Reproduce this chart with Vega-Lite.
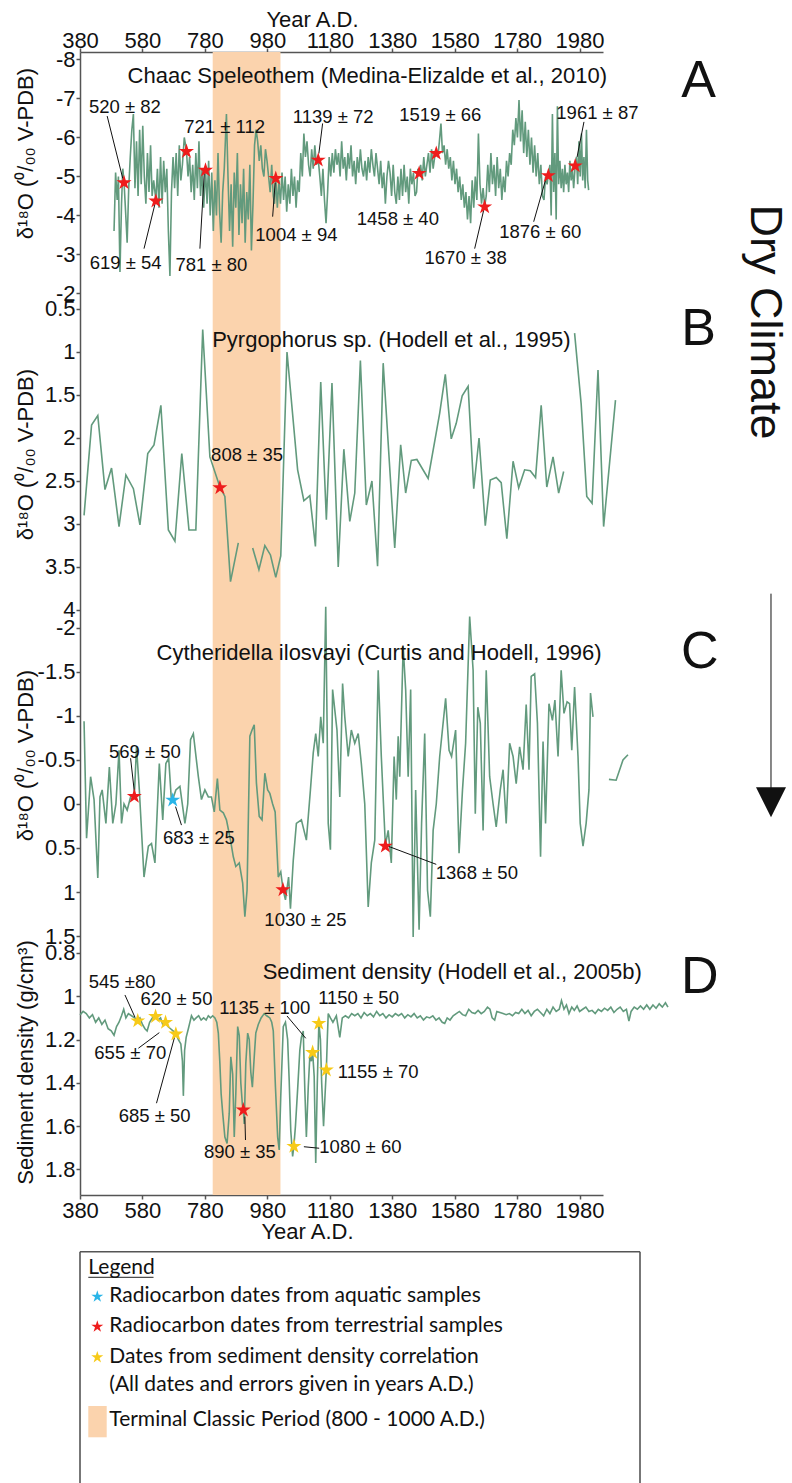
{
"$schema": "https://vega.github.io/schema/vega-lite/v6.json",
"background": "white",
"width": 523,
"height": 1143,
"autosize": {"type": "none"},
"padding": {"left": 80, "top": 52, "right": 189, "bottom": 288},
"config": {
  "view": {"stroke": null},
  "axis": {"grid": false, "labelFont": "Liberation Sans", "titleFont": "Liberation Sans", "titleFontWeight": "normal", "labelFontSize": 22, "titleFontSize": 22, "domainColor": "#555", "tickColor": "#555", "labelColor": "#111", "titleColor": "#111", "tickSize": 4, "labelPadding": 1, "domainWidth": 1.5, "tickWidth": 1.5, "labelOverlap": false, "labelFlush": false}
},
"resolve": {"scale": {"x": "independent", "y": "independent"}},
"datasets": {
"a": [{"x":489,"y":-3.6},{"x":494,"y":-5.1},{"x":499,"y":-4.4},{"x":503,"y":-5.0},{"x":508,"y":-2.55},{"x":513,"y":-4.3},{"x":517,"y":-5.2},{"x":521,"y":-4.86},{"x":526,"y":-4.1},{"x":531,"y":-3.3},{"x":536,"y":-4.7},{"x":541,"y":-5.5},{"x":546,"y":-6.2},{"x":551,"y":-6.6},{"x":556,"y":-4.7},{"x":561,"y":-5.9},{"x":566,"y":-4.5},{"x":571,"y":-6.2},{"x":576,"y":-4.8},{"x":581,"y":-6.3},{"x":586,"y":-5.0},{"x":591,"y":-4.3},{"x":596,"y":-5.6},{"x":601,"y":-4.6},{"x":606,"y":-5.8},{"x":611,"y":-4.5},{"x":616,"y":-4.9},{"x":623,"y":-4.39},{"x":628,"y":-5.2},{"x":633,"y":-4.2},{"x":638,"y":-5.5},{"x":643,"y":-4.3},{"x":648,"y":-5.4},{"x":653,"y":-4.6},{"x":658,"y":-5.2},{"x":663,"y":-3.6},{"x":668,"y":-2.45},{"x":673,"y":-4.6},{"x":678,"y":-5.5},{"x":683,"y":-4.7},{"x":688,"y":-5.6},{"x":693,"y":-4.5},{"x":698,"y":-5.8},{"x":703,"y":-4.9},{"x":708,"y":-5.3},{"x":714,"y":-6.0},{"x":721,"y":-5.66},{"x":726,"y":-5.0},{"x":731,"y":-5.5},{"x":736,"y":-4.6},{"x":741,"y":-5.3},{"x":746,"y":-4.4},{"x":751,"y":-5.6},{"x":756,"y":-4.7},{"x":761,"y":-5.9},{"x":766,"y":-4.5},{"x":771,"y":-5.2},{"x":776,"y":-4.2},{"x":782,"y":-5.18},{"x":787,"y":-4.3},{"x":792,"y":-5.4},{"x":797,"y":-4.0},{"x":802,"y":-5.1},{"x":807,"y":-3.6},{"x":812,"y":-4.9},{"x":817,"y":-4.0},{"x":822,"y":-5.6},{"x":827,"y":-4.1},{"x":832,"y":-3.3},{"x":837,"y":-4.6},{"x":842,"y":-5.2},{"x":849,"y":-6.6},{"x":854,"y":-5.0},{"x":859,"y":-3.6},{"x":864,"y":-4.8},{"x":869,"y":-3.2},{"x":874,"y":-5.1},{"x":879,"y":-4.2},{"x":884,"y":-5.6},{"x":889,"y":-3.5},{"x":894,"y":-4.8},{"x":899,"y":-3.8},{"x":904,"y":-5.2},{"x":909,"y":-3.3},{"x":914,"y":-4.6},{"x":919,"y":-3.9},{"x":924,"y":-5.3},{"x":929,"y":-3.1},{"x":934,"y":-4.3},{"x":939,"y":-5.8},{"x":944,"y":-6.2},{"x":949,"y":-5.9},{"x":954,"y":-5.4},{"x":959,"y":-5.8},{"x":964,"y":-5.2},{"x":969,"y":-5.0},{"x":974,"y":-5.7},{"x":979,"y":-5.4},{"x":984,"y":-5.0},{"x":989,"y":-4.6},{"x":994,"y":-5.3},{"x":999,"y":-4.5},{"x":1003,"y":-4.3},{"x":1007,"y":-4.97},{"x":1012,"y":-4.2},{"x":1017,"y":-4.9},{"x":1022,"y":-4.3},{"x":1027,"y":-5.1},{"x":1032,"y":-4.4},{"x":1037,"y":-5.0},{"x":1042,"y":-4.1},{"x":1047,"y":-4.8},{"x":1052,"y":-4.3},{"x":1057,"y":-5.2},{"x":1062,"y":-4.5},{"x":1067,"y":-5.0},{"x":1072,"y":-4.2},{"x":1077,"y":-4.9},{"x":1082,"y":-4.6},{"x":1087,"y":-5.6},{"x":1092,"y":-5.0},{"x":1097,"y":-6.1},{"x":1102,"y":-5.5},{"x":1107,"y":-5.9},{"x":1112,"y":-5.3},{"x":1117,"y":-5.0},{"x":1122,"y":-5.7},{"x":1127,"y":-5.2},{"x":1132,"y":-5.8},{"x":1137,"y":-5.3},{"x":1143,"y":-5.44},{"x":1148,"y":-5.0},{"x":1153,"y":-4.5},{"x":1158,"y":-5.2},{"x":1163,"y":-4.4},{"x":1168,"y":-3.8},{"x":1173,"y":-4.6},{"x":1178,"y":-5.5},{"x":1183,"y":-5.0},{"x":1188,"y":-5.6},{"x":1193,"y":-5.1},{"x":1198,"y":-5.7},{"x":1203,"y":-5.3},{"x":1208,"y":-5.6},{"x":1213,"y":-5.0},{"x":1218,"y":-5.9},{"x":1223,"y":-5.2},{"x":1228,"y":-5.5},{"x":1233,"y":-4.9},{"x":1238,"y":-5.6},{"x":1243,"y":-5.2},{"x":1248,"y":-5.8},{"x":1253,"y":-5.0},{"x":1258,"y":-5.4},{"x":1263,"y":-4.8},{"x":1268,"y":-5.5},{"x":1273,"y":-5.1},{"x":1278,"y":-5.7},{"x":1283,"y":-5.2},{"x":1288,"y":-5.0},{"x":1293,"y":-5.4},{"x":1298,"y":-4.9},{"x":1303,"y":-5.5},{"x":1308,"y":-5.1},{"x":1313,"y":-5.7},{"x":1318,"y":-5.3},{"x":1323,"y":-5.0},{"x":1328,"y":-5.6},{"x":1333,"y":-5.2},{"x":1338,"y":-4.8},{"x":1343,"y":-5.4},{"x":1348,"y":-4.7},{"x":1353,"y":-5.1},{"x":1358,"y":-4.3},{"x":1363,"y":-5.0},{"x":1368,"y":-5.4},{"x":1373,"y":-5.1},{"x":1378,"y":-4.5},{"x":1383,"y":-5.3},{"x":1388,"y":-4.6},{"x":1393,"y":-4.3},{"x":1398,"y":-5.0},{"x":1403,"y":-4.4},{"x":1408,"y":-5.2},{"x":1413,"y":-4.5},{"x":1418,"y":-5.3},{"x":1423,"y":-4.6},{"x":1428,"y":-5.0},{"x":1433,"y":-4.3},{"x":1438,"y":-5.2},{"x":1443,"y":-4.8},{"x":1448,"y":-5.1},{"x":1453,"y":-4.5},{"x":1458,"y":-4.6},{"x":1462,"y":-5.2},{"x":1466,"y":-5.1},{"x":1471,"y":-5.3},{"x":1476,"y":-4.9},{"x":1481,"y":-5.5},{"x":1486,"y":-5.0},{"x":1491,"y":-5.3},{"x":1496,"y":-5.6},{"x":1501,"y":-5.1},{"x":1506,"y":-5.7},{"x":1511,"y":-5.2},{"x":1516,"y":-5.5},{"x":1521,"y":-5.61},{"x":1526,"y":-5.5},{"x":1531,"y":-5.9},{"x":1536,"y":-6.36},{"x":1541,"y":-5.6},{"x":1546,"y":-5.8},{"x":1551,"y":-5.3},{"x":1556,"y":-5.7},{"x":1561,"y":-5.2},{"x":1566,"y":-5.5},{"x":1571,"y":-4.9},{"x":1576,"y":-5.4},{"x":1581,"y":-4.8},{"x":1586,"y":-5.2},{"x":1591,"y":-4.6},{"x":1596,"y":-5.0},{"x":1601,"y":-4.4},{"x":1606,"y":-4.8},{"x":1611,"y":-4.2},{"x":1616,"y":-4.6},{"x":1621,"y":-3.9},{"x":1626,"y":-4.5},{"x":1631,"y":-3.8},{"x":1636,"y":-4.9},{"x":1641,"y":-4.2},{"x":1646,"y":-5.0},{"x":1651,"y":-4.4},{"x":1656,"y":-6.1},{"x":1661,"y":-4.8},{"x":1666,"y":-4.3},{"x":1671,"y":-4.7},{"x":1676,"y":-4.24},{"x":1681,"y":-4.5},{"x":1686,"y":-5.3},{"x":1691,"y":-4.6},{"x":1696,"y":-5.6},{"x":1701,"y":-4.8},{"x":1706,"y":-5.3},{"x":1711,"y":-4.5},{"x":1716,"y":-5.5},{"x":1721,"y":-4.7},{"x":1726,"y":-5.2},{"x":1731,"y":-4.4},{"x":1736,"y":-5.0},{"x":1741,"y":-4.6},{"x":1746,"y":-5.4},{"x":1751,"y":-5.0},{"x":1756,"y":-5.6},{"x":1761,"y":-5.3},{"x":1766,"y":-6.2},{"x":1771,"y":-5.8},{"x":1776,"y":-6.5},{"x":1781,"y":-6.0},{"x":1786,"y":-6.96},{"x":1791,"y":-5.9},{"x":1796,"y":-6.7},{"x":1801,"y":-5.6},{"x":1806,"y":-6.4},{"x":1811,"y":-5.5},{"x":1816,"y":-6.2},{"x":1821,"y":-5.3},{"x":1826,"y":-6.0},{"x":1831,"y":-5.1},{"x":1836,"y":-5.8},{"x":1841,"y":-5.0},{"x":1846,"y":-5.6},{"x":1851,"y":-4.8},{"x":1856,"y":-5.3},{"x":1861,"y":-4.5},{"x":1866,"y":-4.4},{"x":1871,"y":-5.0},{"x":1876,"y":-4.8},{"x":1880,"y":-5.04},{"x":1885,"y":-5.3},{"x":1889,"y":-4.0},{"x":1893,"y":-6.6},{"x":1897,"y":-4.6},{"x":1901,"y":-5.6},{"x":1905,"y":-3.9},{"x":1909,"y":-6.8},{"x":1913,"y":-4.8},{"x":1917,"y":-5.4},{"x":1921,"y":-4.7},{"x":1925,"y":-5.2},{"x":1929,"y":-4.6},{"x":1933,"y":-5.3},{"x":1937,"y":-4.8},{"x":1941,"y":-5.1},{"x":1945,"y":-4.6},{"x":1949,"y":-5.4},{"x":1953,"y":-4.9},{"x":1957,"y":-5.2},{"x":1961,"y":-4.7},{"x":1966,"y":-5.29},{"x":1970,"y":-5.5},{"x":1974,"y":-4.8},{"x":1978,"y":-5.9},{"x":1982,"y":-5.0},{"x":1986,"y":-6.1},{"x":1990,"y":-4.9},{"x":1994,"y":-5.5},{"x":1998,"y":-4.7},{"x":2002,"y":-6.2},{"x":2006,"y":-4.9},{"x":2009,"y":-4.65}],
"b": [{"x":393,"y":2.9,"s":1},{"x":417,"y":1.85,"s":1},{"x":437,"y":1.74,"s":1},{"x":460,"y":2.6,"s":1},{"x":481,"y":2.35,"s":1},{"x":505,"y":3.03,"s":1},{"x":527,"y":2.43,"s":1},{"x":551,"y":2.59,"s":1},{"x":572,"y":3.01,"s":1},{"x":597,"y":2.18,"s":1},{"x":617,"y":2.08,"s":1},{"x":639,"y":1.62,"s":1},{"x":663,"y":3.07,"s":1},{"x":684,"y":3.2,"s":1},{"x":706,"y":2.18,"s":1},{"x":729,"y":3.07,"s":1},{"x":751,"y":3.07,"s":1},{"x":773,"y":0.74,"s":1},{"x":796,"y":2.22,"s":1},{"x":828,"y":2.57,"s":1},{"x":844,"y":2.68,"s":1},{"x":862,"y":3.67,"s":1},{"x":887,"y":3.22,"s":1},
{"x":933,"y":3.28,"s":2},{"x":953,"y":3.53,"s":2},{"x":972,"y":3.25,"s":2},{"x":990,"y":3.36,"s":2},{"x":1007,"y":3.62,"s":2},{"x":1023,"y":3.37,"s":2},{"x":1043,"y":1.0,"s":2},{"x":1077,"y":2.37,"s":2},{"x":1097,"y":2.73,"s":2},{"x":1116,"y":2.67,"s":2},{"x":1134,"y":3.26,"s":2},{"x":1151,"y":1.35,"s":2},{"x":1169,"y":2.95,"s":2},{"x":1187,"y":1.36,"s":2},{"x":1207,"y":3.5,"s":2},{"x":1225,"y":2.13,"s":2},{"x":1244,"y":2.97,"s":2},{"x":1260,"y":2.64,"s":2},{"x":1278,"y":1.1,"s":2},{"x":1297,"y":2.78,"s":2},{"x":1315,"y":2.5,"s":2},{"x":1333,"y":3.49,"s":2},{"x":1351,"y":1.13,"s":2},{"x":1388,"y":3.28,"s":2},{"x":1407,"y":2.08,"s":2},{"x":1423,"y":2.64,"s":2},{"x":1441,"y":2.26,"s":2},{"x":1459,"y":2.25,"s":2},{"x":1495,"y":2.47,"s":2},{"x":1532,"y":1.71,"s":2},{"x":1550,"y":1.26,"s":2},{"x":1569,"y":2.01,"s":2},{"x":1585,"y":1.83,"s":2},{"x":1604,"y":1.51,"s":2},{"x":1623,"y":1.4,"s":2},{"x":1641,"y":2.59,"s":2},{"x":1658,"y":2.0,"s":2},{"x":1678,"y":3.02,"s":2},{"x":1694,"y":2.49,"s":2},{"x":1713,"y":2.46,"s":2},{"x":1729,"y":2.52,"s":2},{"x":1747,"y":3.17,"s":2},{"x":1767,"y":2.27,"s":2},{"x":1785,"y":2.58,"s":2},{"x":1804,"y":2.37,"s":2},{"x":1822,"y":2.38,"s":2},{"x":1839,"y":2.46,"s":2},{"x":1857,"y":1.62,"s":2},{"x":1875,"y":2.57,"s":2},{"x":1895,"y":2.22,"s":2},{"x":1913,"y":2.64,"s":2},{"x":1929,"y":2.39,"s":2},
{"x":1964,"y":0.78,"s":3},{"x":1985,"y":1.6,"s":3},{"x":2003,"y":2.68,"s":3},{"x":2020,"y":2.76,"s":3},{"x":2039,"y":1.21,"s":3},{"x":2057,"y":3.03,"s":3},{"x":2095,"y":1.56,"s":3}],
"c": [{"x":393,"y":-0.94,"s":1},{"x":401,"y":0.39,"s":1},{"x":414,"y":-0.31,"s":1},{"x":425,"y":-0.05,"s":1},{"x":437,"y":0.84,"s":1},{"x":444,"y":-0.08,"s":1},{"x":451,"y":-0.16,"s":1},{"x":463,"y":0.22,"s":1},{"x":474,"y":-0.42,"s":1},{"x":485,"y":0.22,"s":1},{"x":495,"y":0.0,"s":1},{"x":505,"y":-0.61,"s":1},{"x":513,"y":0.22,"s":1},{"x":521,"y":0.0,"s":1},{"x":531,"y":0.07,"s":1},{"x":542,"y":-0.08,"s":1},{"x":554,"y":-0.095,"s":1},{"x":561,"y":-0.65,"s":1},{"x":570,"y":-0.16,"s":1},{"x":585,"y":0.83,"s":1},{"x":599,"y":0.48,"s":1},{"x":609,"y":0.45,"s":1},{"x":620,"y":0.67,"s":1},{"x":634,"y":-0.46,"s":1},{"x":645,"y":0.18,"s":1},{"x":655,"y":-0.46,"s":1},{"x":664,"y":-0.52,"s":1},{"x":673,"y":-0.03,"s":1},{"x":677,"y":-0.053,"s":1},{"x":687,"y":-0.16,"s":1},{"x":700,"y":-0.2,"s":1},{"x":716,"y":0.22,"s":1},{"x":725,"y":0.0,"s":1},{"x":734,"y":-0.73,"s":1},{"x":743,"y":-0.8,"s":1},{"x":759,"y":-0.31,"s":1},{"x":769,"y":-0.05,"s":1},{"x":780,"y":-0.16,"s":1},{"x":791,"y":-0.08,"s":1},{"x":801,"y":-0.08,"s":1},{"x":810,"y":0.09,"s":1},{"x":820,"y":-0.29,"s":1},{"x":828,"y":0.07,"s":1},{"x":839,"y":0.1,"s":1},{"x":849,"y":0.18,"s":1},{"x":862,"y":0.41,"s":1},{"x":871,"y":0.6,"s":1},{"x":879,"y":0.71,"s":1},{"x":890,"y":0.67,"s":1},{"x":901,"y":0.9,"s":1},{"x":908,"y":1.28,"s":1},{"x":915,"y":0.98,"s":1},{"x":924,"y":-0.77,"s":1},{"x":931,"y":-0.84,"s":1},{"x":938,"y":-0.9,"s":1},{"x":945,"y":-0.24,"s":1},{"x":954,"y":0.14,"s":1},{"x":963,"y":0.18,"s":1},{"x":972,"y":-0.35,"s":1},{"x":981,"y":-0.16,"s":1},{"x":988,"y":-0.12,"s":1},{"x":997,"y":0.0,"s":1},{"x":1005,"y":0.09,"s":1},{"x":1015,"y":0.83,"s":1},{"x":1023,"y":0.77,"s":1},{"x":1030,"y":0.966,"s":1},{"x":1038,"y":1.09,"s":1},{"x":1048,"y":0.83,"s":1},{"x":1054,"y":1.19,"s":1},{"x":1063,"y":0.64,"s":1},{"x":1073,"y":0.22,"s":1},{"x":1089,"y":0.18,"s":1},{"x":1105,"y":0.41,"s":1},{"x":1118,"y":-0.16,"s":1},{"x":1127,"y":-0.58,"s":1},{"x":1135,"y":-0.8,"s":1},{"x":1143,"y":-0.54,"s":1},{"x":1151,"y":-0.99,"s":1},{"x":1159,"y":-0.69,"s":1},{"x":1167,"y":-2.24,"s":1},{"x":1175,"y":0.22,"s":1},{"x":1182,"y":0.52,"s":1},{"x":1189,"y":-1.3,"s":1},{"x":1196,"y":-1.07,"s":1},{"x":1203,"y":-0.84,"s":1},{"x":1212,"y":-0.08,"s":1},{"x":1221,"y":-1.37,"s":1},{"x":1228,"y":-0.99,"s":1},{"x":1239,"y":-0.54,"s":1},{"x":1249,"y":-0.84,"s":1},{"x":1260,"y":-0.69,"s":1},{"x":1271,"y":-0.8,"s":1},{"x":1281,"y":-0.46,"s":1},{"x":1292,"y":0.0,"s":1},{"x":1303,"y":1.17,"s":1},{"x":1313,"y":0.67,"s":1},{"x":1324,"y":0.41,"s":1},{"x":1335,"y":-1.52,"s":1},{"x":1345,"y":-0.54,"s":1},{"x":1358,"y":0.47,"s":1},{"x":1367,"y":0.3,"s":1},{"x":1377,"y":0.67,"s":1},{"x":1386,"y":-0.54,"s":1},{"x":1393,"y":-0.05,"s":1},{"x":1399,"y":-0.77,"s":1},{"x":1404,"y":-0.31,"s":1},{"x":1415,"y":-1.79,"s":1},{"x":1423,"y":-1.3,"s":1},{"x":1431,"y":-0.31,"s":1},{"x":1439,"y":-1.3,"s":1},{"x":1447,"y":1.51,"s":1},{"x":1455,"y":-0.16,"s":1},{"x":1466,"y":1.43,"s":1},{"x":1474,"y":0.22,"s":1},{"x":1484,"y":-0.8,"s":1},{"x":1493,"y":0.98,"s":1},{"x":1502,"y":1.28,"s":1},{"x":1511,"y":0.3,"s":1},{"x":1521,"y":0.0,"s":1},{"x":1532,"y":-0.54,"s":1},{"x":1551,"y":-1.2,"s":1},{"x":1562,"y":-0.61,"s":1},{"x":1570,"y":-0.54,"s":1},{"x":1583,"y":-0.84,"s":1},{"x":1594,"y":0.56,"s":1},{"x":1605,"y":-0.16,"s":1},{"x":1615,"y":-0.69,"s":1},{"x":1628,"y":-2.13,"s":1},{"x":1639,"y":-1.52,"s":1},{"x":1646,"y":0.11,"s":1},{"x":1654,"y":-1.1,"s":1},{"x":1662,"y":-0.92,"s":1},{"x":1671,"y":0.3,"s":1},{"x":1681,"y":-1.52,"s":1},{"x":1692,"y":-0.31,"s":1},{"x":1703,"y":0.0,"s":1},{"x":1713,"y":0.26,"s":1},{"x":1726,"y":-0.16,"s":1},{"x":1735,"y":-0.39,"s":1},{"x":1745,"y":0.22,"s":1},{"x":1756,"y":-0.69,"s":1},{"x":1767,"y":-0.54,"s":1},{"x":1777,"y":-0.23,"s":1},{"x":1788,"y":-0.65,"s":1},{"x":1799,"y":-0.39,"s":1},{"x":1809,"y":-1.13,"s":1},{"x":1818,"y":-0.39,"s":1},{"x":1825,"y":-1.45,"s":1},{"x":1836,"y":-1.48,"s":1},{"x":1845,"y":-0.92,"s":1},{"x":1855,"y":0.6,"s":1},{"x":1863,"y":-0.71,"s":1},{"x":1871,"y":0.22,"s":1},{"x":1882,"y":-1.14,"s":1},{"x":1893,"y":-0.95,"s":1},{"x":1901,"y":-1.18,"s":1},{"x":1911,"y":-0.54,"s":1},{"x":1921,"y":-1.52,"s":1},{"x":1930,"y":-1.03,"s":1},{"x":1940,"y":-1.16,"s":1},{"x":1948,"y":-1.14,"s":1},{"x":1955,"y":-0.61,"s":1},{"x":1964,"y":-1.33,"s":1},{"x":1975,"y":-0.54,"s":1},{"x":1982,"y":0.22,"s":1},{"x":1991,"y":0.48,"s":1},{"x":2001,"y":0.22,"s":1},{"x":2010,"y":-0.16,"s":1},{"x":2015,"y":-1.26,"s":1},{"x":2023,"y":-0.99,"s":1},
{"x":2074,"y":-0.28,"s":2},{"x":2097,"y":-0.27,"s":2},{"x":2119,"y":-0.5,"s":2},{"x":2135,"y":-0.56,"s":2}],
"d": [{"x":380,"y":1.086},{"x":390,"y":1.07},{"x":400,"y":1.08},{"x":410,"y":1.1},{"x":420,"y":1.085},{"x":430,"y":1.12},{"x":440,"y":1.1},{"x":450,"y":1.13},{"x":460,"y":1.11},{"x":470,"y":1.15},{"x":480,"y":1.16},{"x":489,"y":1.18},{"x":497,"y":1.14},{"x":505,"y":1.12},{"x":513,"y":1.09},{"x":520,"y":1.06},{"x":527,"y":1.1},{"x":535,"y":1.08},{"x":545,"y":1.09},{"x":555,"y":1.1},{"x":565,"y":1.11},{"x":572,"y":1.1},{"x":580,"y":1.13},{"x":588,"y":1.15},{"x":595,"y":1.16},{"x":603,"y":1.12},{"x":612,"y":1.1},{"x":622,"y":1.09},{"x":630,"y":1.11},{"x":638,"y":1.1},{"x":645,"y":1.13},{"x":654,"y":1.117},{"x":662,"y":1.14},{"x":670,"y":1.15},{"x":678,"y":1.16},{"x":687,"y":1.171},{"x":695,"y":1.2},{"x":703,"y":1.22},{"x":708,"y":1.3},{"x":711,"y":1.46},{"x":715,"y":1.25},{"x":720,"y":1.19},{"x":727,"y":1.15},{"x":737,"y":1.09},{"x":745,"y":1.11},{"x":752,"y":1.1},{"x":760,"y":1.09},{"x":768,"y":1.11},{"x":776,"y":1.1},{"x":784,"y":1.11},{"x":791,"y":1.09},{"x":798,"y":1.1},{"x":805,"y":1.09},{"x":812,"y":1.1},{"x":818,"y":1.12},{"x":823,"y":1.17},{"x":828,"y":1.31},{"x":832,"y":1.45},{"x":837,"y":1.54},{"x":844,"y":1.65},{"x":851,"y":1.68},{"x":858,"y":1.54},{"x":863,"y":1.28},{"x":869,"y":1.36},{"x":874,"y":1.65},{"x":879,"y":1.45},{"x":885,"y":1.14},{"x":890,"y":1.18},{"x":895,"y":1.4},{"x":900,"y":1.5},{"x":903,"y":1.522},{"x":906,"y":1.59},{"x":911,"y":1.31},{"x":917,"y":1.17},{"x":922,"y":1.2},{"x":927,"y":1.35},{"x":932,"y":1.42},{"x":938,"y":1.28},{"x":943,"y":1.17},{"x":951,"y":1.13},{"x":960,"y":1.1},{"x":970,"y":1.08},{"x":978,"y":1.09},{"x":988,"y":1.1},{"x":994,"y":1.12},{"x":999,"y":1.16},{"x":1006,"y":1.42},{"x":1013,"y":1.65},{"x":1018,"y":1.71},{"x":1023,"y":1.46},{"x":1031,"y":1.14},{"x":1038,"y":1.12},{"x":1045,"y":1.2},{"x":1050,"y":1.39},{"x":1055,"y":1.62},{"x":1061,"y":1.74},{"x":1065,"y":1.69},{"x":1070,"y":1.6},{"x":1077,"y":1.43},{"x":1084,"y":1.25},{"x":1089,"y":1.19},{"x":1095,"y":1.16},{"x":1100,"y":1.43},{"x":1105,"y":1.65},{"x":1111,"y":1.42},{"x":1116,"y":1.28},{"x":1121,"y":1.3},{"x":1125,"y":1.256},{"x":1130,"y":1.37},{"x":1135,"y":1.77},{"x":1140,"y":1.4},{"x":1145,"y":1.122},{"x":1150,"y":1.2},{"x":1154,"y":1.4},{"x":1160,"y":1.6},{"x":1165,"y":1.45},{"x":1169,"y":1.337},{"x":1172,"y":1.2},{"x":1175,"y":1.08},{"x":1182,"y":1.1},{"x":1190,"y":1.12},{"x":1201,"y":1.09},{"x":1212,"y":1.19},{"x":1220,"y":1.1},{"x":1230,"y":1.09},{"x":1240,"y":1.1},{"x":1250,"y":1.08},{"x":1260,"y":1.09},{"x":1270,"y":1.08},{"x":1280,"y":1.1},{"x":1290,"y":1.075},{"x":1300,"y":1.09},{"x":1310,"y":1.08},{"x":1320,"y":1.095},{"x":1330,"y":1.07},{"x":1340,"y":1.09},{"x":1350,"y":1.08},{"x":1360,"y":1.1},{"x":1370,"y":1.085},{"x":1380,"y":1.095},{"x":1390,"y":1.08},{"x":1400,"y":1.09},{"x":1410,"y":1.08},{"x":1420,"y":1.1},{"x":1430,"y":1.085},{"x":1440,"y":1.095},{"x":1450,"y":1.08},{"x":1460,"y":1.1},{"x":1470,"y":1.09},{"x":1480,"y":1.11},{"x":1490,"y":1.095},{"x":1500,"y":1.1},{"x":1510,"y":1.09},{"x":1520,"y":1.11},{"x":1530,"y":1.1},{"x":1540,"y":1.12},{"x":1548,"y":1.125},{"x":1556,"y":1.1},{"x":1565,"y":1.11},{"x":1575,"y":1.09},{"x":1585,"y":1.08},{"x":1595,"y":1.07},{"x":1605,"y":1.085},{"x":1615,"y":1.09},{"x":1625,"y":1.06},{"x":1635,"y":1.075},{"x":1645,"y":1.08},{"x":1655,"y":1.065},{"x":1665,"y":1.08},{"x":1675,"y":1.07},{"x":1685,"y":1.05},{"x":1693,"y":1.06},{"x":1700,"y":1.1},{"x":1708,"y":1.11},{"x":1715,"y":1.07},{"x":1725,"y":1.075},{"x":1735,"y":1.08},{"x":1745,"y":1.085},{"x":1755,"y":1.08},{"x":1765,"y":1.09},{"x":1775,"y":1.075},{"x":1785,"y":1.08},{"x":1795,"y":1.06},{"x":1805,"y":1.08},{"x":1815,"y":1.065},{"x":1825,"y":1.09},{"x":1835,"y":1.07},{"x":1845,"y":1.06},{"x":1855,"y":1.075},{"x":1865,"y":1.09},{"x":1875,"y":1.06},{"x":1885,"y":1.08},{"x":1895,"y":1.05},{"x":1905,"y":1.07},{"x":1915,"y":1.06},{"x":1922,"y":1.02},{"x":1930,"y":1.06},{"x":1938,"y":1.04},{"x":1946,"y":1.08},{"x":1955,"y":1.05},{"x":1963,"y":1.065},{"x":1972,"y":1.045},{"x":1980,"y":1.07},{"x":1990,"y":1.06},{"x":2000,"y":1.05},{"x":2010,"y":1.07},{"x":2020,"y":1.065},{"x":2030,"y":1.08},{"x":2040,"y":1.06},{"x":2050,"y":1.07},{"x":2060,"y":1.055},{"x":2070,"y":1.065},{"x":2080,"y":1.05},{"x":2090,"y":1.075},{"x":2100,"y":1.06},{"x":2110,"y":1.05},{"x":2120,"y":1.07},{"x":2130,"y":1.06},{"x":2138,"y":1.115},{"x":2145,"y":1.07},{"x":2155,"y":1.05},{"x":2165,"y":1.06},{"x":2175,"y":1.045},{"x":2185,"y":1.06},{"x":2195,"y":1.04},{"x":2205,"y":1.06},{"x":2215,"y":1.04},{"x":2225,"y":1.055},{"x":2235,"y":1.035},{"x":2245,"y":1.05},{"x":2255,"y":1.03},{"x":2263,"y":1.05}]
},
"layer": [
{
 "encoding": {
  "x": {"field": "x", "type": "quantitative", "scale": {"domain": [380, 2055], "nice": false, "zero": false},
        "axis": {"orient": "top", "values": [380,580,780,980,1180,1380,1580,1780,1980], "format": "d", "title": "Year A.D.", "titleX": 232, "labelPadding": -4, "titlePadding": -2.5}},
  "y": {"field": "y", "type": "quantitative", "scale": {"domain": [-8.192, 21.115], "reverse": true, "nice": false, "zero": false},
        "axis": {"orient": "left", "values": [-8,-7,-6,-5,-4,-3,-2], "labelExpr": "'' + datum.value", "title": "δ¹⁸O (⁰/₀₀ V-PDB)", "titleX": -55, "titleY": 101, "titleBaseline": "middle"}}
 },
 "layer": [
  {"data": {"values": [{"x": 805, "x2": 1022, "y": -8.192, "y2": 21.115}]}, "mark": {"type": "rect", "color": "#fbd3ad"}, "encoding": {"x2": {"field": "x2"}, "y2": {"field": "y2"}}},
  {"data": {"name": "a"}, "mark": {"type": "line", "color": "#629a7d", "strokeWidth": 1.6}},
  {"data": {"values": [{"x":467,"y":-6.55,"x2":517,"y2":-4.95},{"x":585,"y":-3.15,"x2":620,"y2":-4.29},{"x":764,"y":-3.15,"x2":778,"y2":-5.08},{"x":997,"y":-3.97,"x2":1005,"y2":-4.84},{"x":1157,"y":-6.36,"x2":1145,"y2":-5.59},{"x":1644,"y":-3.15,"x2":1673,"y2":-4.14},{"x":1833,"y":-3.84,"x2":1871,"y2":-4.91},{"x":1994,"y":-6.4,"x2":1972,"y2":-5.5}]},
   "mark": {"type": "rule", "color": "#111", "strokeWidth": 1}, "encoding": {"x2": {"field": "x2"}, "y2": {"field": "y2"}}},
  {"data": {"values": [{"x":521,"y":-4.86,"k":"terrestrial"},{"x":623,"y":-4.39,"k":"terrestrial"},{"x":721,"y":-5.66,"k":"terrestrial"},{"x":782,"y":-5.18,"k":"terrestrial"},{"x":1007,"y":-4.97,"k":"terrestrial"},{"x":1143,"y":-5.44,"k":"terrestrial"},{"x":1466,"y":-5.1,"k":"terrestrial"},{"x":1521,"y":-5.61,"k":"terrestrial"},{"x":1676,"y":-4.24,"k":"terrestrial"},{"x":1880,"y":-5.04,"k":"terrestrial"},{"x":1966,"y":-5.29,"k":"terrestrial"}]},
   "mark": {"type": "point", "shape": "M0,-0.9045L0.2245,-0.2135L0.951,-0.2135L0.363,0.2135L0.588,0.9045L0,0.4775L-0.588,0.9045L-0.363,0.2135L-0.951,-0.2135L-0.2245,-0.2135Z", "filled": true, "size": 250, "opacity": 1},
   "encoding": {"color": {"field": "k", "type": "nominal", "scale": {"domain": ["aquatic","terrestrial","density"], "range": ["#29b5e8","#ee1c1c","#f7ca18"]}, "legend": null}}},
  {"data": {"values": [{"x":524,"y":-6.79,"t":"520 ± 82"},{"x":526,"y":-2.77,"t":"619 ± 54"},{"x":843,"y":-6.27,"t":"721 ± 112"},{"x":801,"y":-2.73,"t":"781 ± 80"},{"x":1073,"y":-3.5,"t":"1004 ± 94"},{"x":1191,"y":-6.53,"t":"1139 ± 72"},{"x":1398,"y":-3.92,"t":"1458 ± 40"},{"x":1534,"y":-6.57,"t":"1519 ± 66"},{"x":1615,"y":-2.9,"t":"1670 ± 38"},{"x":1854,"y":-3.58,"t":"1876 ± 60"},{"x":2037,"y":-6.62,"t":"1961 ± 87"}]},
   "mark": {"type": "text", "font": "Liberation Sans", "fontSize": 18.5, "color": "#111", "align": "center", "baseline": "middle"}, "encoding": {"text": {"field": "t"}}},
  {"data": {"values": [{"x":1300,"y":-7.58,"t":"Chaac Speleothem (Medina-Elizalde et al., 2010)"}]},
   "mark": {"type": "text", "font": "Liberation Sans", "fontSize": 22, "color": "#111", "align": "center", "baseline": "middle"}, "encoding": {"text": {"field": "t"}}},
  {"data": {"values": [{"x":2361,"y":-7.04,"t":"A"}]},
   "mark": {"type": "text", "font": "Liberation Sans", "fontSize": 52, "color": "#111", "align": "center", "baseline": "alphabetic"}, "encoding": {"text": {"field": "t"}}}
 ]
},
{
 "encoding": {
  "x": {"field": "x", "type": "quantitative", "scale": {"domain": [380, 2055], "nice": false, "zero": false}, "axis": null},
  "y": {"field": "y", "type": "quantitative", "scale": {"domain": [-2.488, 10.802], "reverse": true, "nice": false, "zero": false},
        "axis": {"orient": "left", "domain": false, "values": [0.5,1,1.5,2,2.5,3,3.5,4], "labelExpr": "'' + datum.value", "title": "δ¹⁸O (⁰/₀₀ V-PDB)", "titleX": -55, "titleY": 402, "titleBaseline": "middle"}}
 },
 "layer": [
  {"data": {"name": "b"}, "mark": {"type": "line", "color": "#629a7d", "strokeWidth": 1.6}, "encoding": {"detail": {"field": "s", "type": "nominal"}}},
  {"data": {"values": [{"x":828,"y":2.57,"k":"terrestrial"}]},
   "mark": {"type": "point", "shape": "M0,-0.9045L0.2245,-0.2135L0.951,-0.2135L0.363,0.2135L0.588,0.9045L0,0.4775L-0.588,0.9045L-0.363,0.2135L-0.951,-0.2135L-0.2245,-0.2135Z", "filled": true, "size": 250, "opacity": 1},
   "encoding": {"color": {"field": "k", "type": "nominal", "scale": {"domain": ["aquatic","terrestrial","density"], "range": ["#29b5e8","#ee1c1c","#f7ca18"]}, "legend": null}}},
  {"data": {"values": [{"x":915,"y":2.2,"t":"808 ± 35"}]},
   "mark": {"type": "text", "font": "Liberation Sans", "fontSize": 18.5, "color": "#111", "align": "center", "baseline": "middle"}, "encoding": {"text": {"field": "t"}}},
  {"data": {"values": [{"x":1377,"y":0.86,"t":"Pyrgophorus sp. (Hodell et al., 1995)"}]},
   "mark": {"type": "text", "font": "Liberation Sans", "fontSize": 22, "color": "#111", "align": "center", "baseline": "middle"}, "encoding": {"text": {"field": "t"}}},
  {"data": {"values": [{"x":2361,"y":0.919,"t":"B"}]},
   "mark": {"type": "text", "font": "Liberation Sans", "fontSize": 52, "color": "#111", "align": "center", "baseline": "alphabetic"}, "encoding": {"text": {"field": "t"}}},
  {"data": {"values": [{"x":2530,"y":0.651,"t":"Dry Climate"}]},
   "mark": {"type": "text", "font": "Liberation Sans", "fontSize": 45, "color": "#111", "align": "center", "baseline": "alphabetic", "angle": 90}, "encoding": {"text": {"field": "t"}}}
 ]
},
{
 "encoding": {
  "x": {"field": "x", "type": "quantitative", "scale": {"domain": [380, 2055], "nice": false, "zero": false}, "axis": null},
  "y": {"field": "y", "type": "quantitative", "scale": {"domain": [-8.545, 4.443], "reverse": true, "nice": false, "zero": false},
        "axis": {"orient": "left", "domain": false, "values": [-2,-1.5,-1,-0.5,0,0.5,1,1.5], "labelExpr": "'' + datum.value", "title": "δ¹⁸O (⁰/₀₀ V-PDB)", "titleX": -55, "titleY": 703, "titleBaseline": "middle"}}
 },
 "layer": [
  {"data": {"name": "c"}, "mark": {"type": "line", "color": "#629a7d", "strokeWidth": 1.6}, "encoding": {"detail": {"field": "s", "type": "nominal"}}},
  {"data": {"values": [{"x":542,"y":-0.52,"x2":554,"y2":-0.14},{"x":686,"y":0.03,"x2":705,"y2":0.24},{"x":1367,"y":0.48,"x2":1521,"y2":0.686},{"x":2593,"y":-2.39,"x2":2593,"y2":-0.1}]},
   "mark": {"type": "rule", "color": "#111", "strokeWidth": 1}, "encoding": {"x2": {"field": "x2"}, "y2": {"field": "y2"}}},
  {"data": {"values": [{"x":2593,"y":-0.02}]},
   "mark": {"type": "point", "shape": "M-1,-1L1,-1L0,1Z", "filled": true, "size": 900, "color": "#111", "opacity": 1}},
  {"data": {"values": [{"x":554,"y":-0.095,"k":"terrestrial"},{"x":677,"y":-0.053,"k":"aquatic"},{"x":1030,"y":0.966,"k":"terrestrial"},{"x":1358,"y":0.47,"k":"terrestrial"}]},
   "mark": {"type": "point", "shape": "M0,-0.9045L0.2245,-0.2135L0.951,-0.2135L0.363,0.2135L0.588,0.9045L0,0.4775L-0.588,0.9045L-0.363,0.2135L-0.951,-0.2135L-0.2245,-0.2135Z", "filled": true, "size": 250, "opacity": 1},
   "encoding": {"color": {"field": "k", "type": "nominal", "scale": {"domain": ["aquatic","terrestrial","density"], "range": ["#29b5e8","#ee1c1c","#f7ca18"]}, "legend": null}}},
  {"data": {"values": [{"x":588,"y":-0.595,"t":"569 ± 50"},{"x":761,"y":0.39,"t":"683 ± 25"},{"x":1102,"y":1.318,"t":"1030 ± 25"},{"x":1651,"y":0.788,"t":"1368 ± 50"}]},
   "mark": {"type": "text", "font": "Liberation Sans", "fontSize": 18.5, "color": "#111", "align": "center", "baseline": "middle"}, "encoding": {"text": {"field": "t"}}},
  {"data": {"values": [{"x":1338,"y":-1.72,"t":"Cytheridella ilosvayi (Curtis and Hodell, 1996)"}]},
   "mark": {"type": "text", "font": "Liberation Sans", "fontSize": 22, "color": "#111", "align": "center", "baseline": "middle"}, "encoding": {"text": {"field": "t"}}},
  {"data": {"values": [{"x":2365,"y":-1.545,"t":"C"}]},
   "mark": {"type": "text", "font": "Liberation Sans", "fontSize": 52, "color": "#111", "align": "center", "baseline": "alphabetic"}, "encoding": {"text": {"field": "t"}}}
 ]
},
{
 "encoding": {
  "x": {"field": "x", "type": "quantitative", "scale": {"domain": [380, 2055], "nice": false, "zero": false},
        "axis": {"orient": "bottom", "values": [380,580,780,980,1180,1380,1580,1780,1980], "format": "d", "title": "Year A.D.", "titleX": 227, "titlePadding": 0}},
  "y": {"field": "y", "type": "quantitative", "scale": {"domain": [-3.362, 1.918], "reverse": true, "nice": false, "zero": false},
        "axis": {"orient": "left", "domain": false, "values": [0.8,1,1.2,1.4,1.6,1.8], "labelExpr": "'' + datum.value", "title": "Sediment density (g/cm³)", "titleX": -55, "titleY": 1010, "titleBaseline": "middle"}}
 },
 "layer": [
  {"data": {"name": "d"}, "mark": {"type": "line", "color": "#629a7d", "strokeWidth": 1.6}},
  {"data": {"values": [{"x":524,"y":0.994,"x2":556,"y2":1.097},{"x":567,"y":1.24,"x2":634,"y2":1.168},{"x":625,"y":1.494,"x2":684,"y2":1.183},{"x":908,"y":1.556,"x2":910,"y2":1.664},{"x":1043,"y":1.091,"x2":1103,"y2":1.194},{"x":1097,"y":1.695,"x2":1146,"y2":1.702}]},
   "mark": {"type": "rule", "color": "#111", "strokeWidth": 1}, "encoding": {"x2": {"field": "x2"}, "y2": {"field": "y2"}}},
  {"data": {"values": [{"x":565,"y":1.11,"k":"density"},{"x":622,"y":1.09,"k":"density"},{"x":654,"y":1.117,"k":"density"},{"x":687,"y":1.171,"k":"density"},{"x":903,"y":1.522,"k":"terrestrial"},{"x":1065,"y":1.69,"k":"density"},{"x":1125,"y":1.256,"k":"density"},{"x":1145,"y":1.122,"k":"density"},{"x":1169,"y":1.337,"k":"density"}]},
   "mark": {"type": "point", "shape": "M0,-0.9045L0.2245,-0.2135L0.951,-0.2135L0.363,0.2135L0.588,0.9045L0,0.4775L-0.588,0.9045L-0.363,0.2135L-0.951,-0.2135L-0.2245,-0.2135Z", "filled": true, "size": 250, "opacity": 1},
   "encoding": {"color": {"field": "k", "type": "nominal", "scale": {"domain": ["aquatic","terrestrial","density"], "range": ["#29b5e8","#ee1c1c","#f7ca18"]}, "legend": null}}},
  {"data": {"values": [{"x":515,"y":0.932,"t":"545 ±80"},{"x":689,"y":1.014,"t":"620 ± 50"},{"x":541,"y":1.263,"t":"655 ± 70"},{"x":619,"y":1.553,"t":"685 ± 50"},{"x":892,"y":1.718,"t":"890 ± 35"},{"x":972,"y":1.052,"t":"1135 ± 100"},{"x":1272,"y":1.009,"t":"1150 ± 50"},{"x":1335,"y":1.348,"t":"1155 ± 70"},{"x":1278,"y":1.695,"t":"1080 ± 60"}]},
   "mark": {"type": "text", "font": "Liberation Sans", "fontSize": 18.5, "color": "#111", "align": "center", "baseline": "middle"}, "encoding": {"text": {"field": "t"}}},
  {"data": {"values": [{"x":1572,"y":0.886,"t":"Sediment density (Hodell et al., 2005b)"}]},
   "mark": {"type": "text", "font": "Liberation Sans", "fontSize": 22, "color": "#111", "align": "center", "baseline": "middle"}, "encoding": {"text": {"field": "t"}}},
  {"data": {"values": [{"x":2365,"y":0.985,"t":"D"}]},
   "mark": {"type": "text", "font": "Liberation Sans", "fontSize": 52, "color": "#111", "align": "center", "baseline": "alphabetic"}, "encoding": {"text": {"field": "t"}}}
 ]
},
{
 "encoding": {
  "x": {"field": "x", "type": "quantitative", "scale": {"domain": [0, 523], "nice": false, "zero": false}, "axis": null},
  "y": {"field": "y", "type": "quantitative", "scale": {"domain": [0, 1143], "reverse": true, "nice": false, "zero": false}, "axis": null}
 },
 "layer": [
  {"data": {"values": [{"x":0,"y":1199.7,"x2":560,"y2":1199.7},{"x":0,"y":1199.7,"x2":0,"y2":1440},{"x":560,"y":1199.7,"x2":560,"y2":1440}]},
   "mark": {"type": "rule", "color": "#555", "strokeWidth": 1.6}, "encoding": {"x2": {"field": "x2"}, "y2": {"field": "y2"}}},
  {"data": {"values": [{"x":8.3,"y":1225.3,"x2":73.5,"y2":1225.3}]},
   "mark": {"type": "rule", "color": "#222", "strokeWidth": 1}, "encoding": {"x2": {"field": "x2"}, "y2": {"field": "y2"}}},
  {"data": {"values": [{"x":8.3,"y":1354,"x2":26.7,"y2":1385.3}]},
   "mark": {"type": "rect", "color": "#fbd3ad"}, "encoding": {"x2": {"field": "x2"}, "y2": {"field": "y2"}}},
  {"data": {"values": [{"x":17.3,"y":1244,"k":"aquatic"},{"x":17.3,"y":1274,"k":"terrestrial"},{"x":17.3,"y":1304.7,"k":"density"}]},
   "mark": {"type": "point", "shape": "M0,-0.9045L0.2245,-0.2135L0.951,-0.2135L0.363,0.2135L0.588,0.9045L0,0.4775L-0.588,0.9045L-0.363,0.2135L-0.951,-0.2135L-0.2245,-0.2135Z", "filled": true, "size": 160, "opacity": 1},
   "encoding": {"color": {"field": "k", "type": "nominal", "scale": {"domain": ["aquatic","terrestrial","density"], "range": ["#29b5e8","#ee1c1c","#f7ca18"]}, "legend": null}}},
  {"data": {"values": [{"x":8.3,"y":1216.3,"t":"Legend"},{"x":29.3,"y":1244,"t":"Radiocarbon dates from aquatic samples"},{"x":29.3,"y":1274,"t":"Radiocarbon dates from terrestrial samples"},{"x":29.3,"y":1304.7,"t":"Dates from sediment density correlation"},{"x":29.3,"y":1333,"t":"(All dates and errors given in years A.D.)"},{"x":29.3,"y":1368,"t":"Terminal Classic Period (800 - 1000 A.D.)"}]},
   "mark": {"type": "text", "font": "Lato", "fontSize": 21, "color": "#111", "align": "left", "baseline": "middle"}, "encoding": {"text": {"field": "t"}}}
 ]
}
]
}
